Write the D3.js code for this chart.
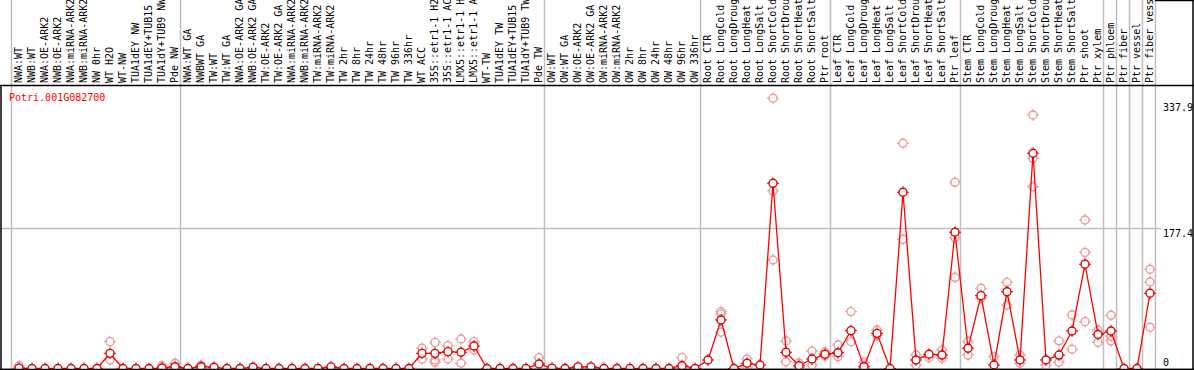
<!DOCTYPE html>
<html><head><meta charset="utf-8">
<script src="https://cdn.jsdelivr.net/npm/d3@7/dist/d3.min.js"></script>
<style>
html,body{margin:0;padding:0;background:#fff;}
svg{display:block;}
text{font-family:"DejaVu Sans Mono",monospace;font-size:10px;}
</style></head>
<body><svg id="c" width="1194" height="370"></svg>
<script>
const geneName = "Potri.001G082700";
const categories = [
"NWA:WT","NWB:WT","NWA:OE-ARK2","NWB:OE-ARK2","NWA:miRNA-ARK2","NWB:miRNA-ARK2","NW 0hr","WT H2O","WT-NW","TUA1dEY NW","TUA1dEY+TUB15 NW","TUA1dY+TUB9 NW","Pde NW",
"NWA:WT GA","NWBWT GA","TW:WT","TW:WT GA","NWA:OE-ARK2 GA","NWB:OE-ARK2 GA","TW:OE-ARK2","TW:OE-ARK2 GA","NWA:miRNA-ARK2 GA","NWB:miRNA-ARK2 GA","TW:miRNA-ARK2","TW:miRNA-ARK2 GA","TW 2hr","TW 8hr","TW 24hr","TW 48hr","TW 96hr","TW 336hr","WT ACC","35S::etr1-1 H2O","35S::etr1-1 ACC","LMX5::etr1-1 H2O","LMX5::etr1-1 ACC","WT-TW","TUA1dEY TW","TUA1dEY+TUB15 TW","TUA1dY+TUB9 TW","Pde TW",
"OW:WT","OW:WT GA","OW:OE-ARK2","OW:OE-ARK2 GA","OW:miRNA-ARK2","OW:miRNA-ARK2 GA","OW 2hr","OW 8hr","OW 24hr","OW 48hr","OW 96hr","OW 336hr",
"Root CTR","Root LongCold","Root LongDrought","Root LongHeat","Root LongSalt","Root ShortCold","Root ShortDrought","Root ShortHeat","Root ShortSalt","Ptr root",
"Leaf CTR","Leaf LongCold","Leaf LongDrought","Leaf LongHeat","Leaf LongSalt","Leaf ShortCold","Leaf ShortDrought","Leaf ShortHeat","Leaf ShortSalt","Ptr leaf",
"Stem CTR","Stem LongCold","Stem LongDrought","Stem LongHeat","Stem LongSalt","Stem ShortCold","Stem ShortDrought","Stem ShortHeat","Stem ShortSalt","Ptr shoot","Ptr xylem",
"Ptr phloem","Ptr fiber","Ptr vessel","Ptr fiber vessel"
];
const means = [
0.5,0,0,0,0,0,0,19.2,0,0,0,0.6,2.3,
0,2.3,1.5,0,0,1.5,0,0,0,0,0,2,0,0,0,0,0,0,19.2,19.2,21.3,20.5,28.5,0,0,0,0,5.7,
0.5,0,2,2,0,0,0,0,0,0,3.5,0,
10.8,61.4,0,6.6,4.4,234.4,20.5,3.5,12,18,
20,47.9,2.3,44.5,0,223,10.8,18,17,172.4,
25.6,92.2,4.4,97.2,10.8,272.4,10.8,17,47.5,131.9,43,
47.5,0,0,95.2
];
const replicates = [
[3.5],[],[],[],[],[],[],[34,10.8],[],[],[],[3.5],[6.6],
[],[4],[],[],[],[],[],[],[],[],[],[],[],[],[],[],[],[],[25.6,12],[33,10.8,7.8],[28.9,12],[37.3,6.6],[34,23.4],[],[],[],[],[13.7],
[],[],[],[],[],[],[],[],[],[],[13.7],[],
[],[72,69,46],[],[12,1],[],[342,224.7,137.3],[34.8,8.6],[7,1],[22,4.4],[21,16],
[29.7,15],[72,34],[7.8],[48.7,41.5],[],[285,163.5],[17,4.4],[13.7],[23.4,13],[235.7,165.6,115.4],
[34,17],[101.5,88.9],[15],[109,80.4],[17,6.6],[320.9,266,230],[4.4],[35,8],[67.7,24.3],[188,147,59.3],[48.7,33],
[67.3,41,35],[],[],[125.6,109.5,52.2]
];
const groupStarts = [0,13,41,53,63,73,84,85,86,87,88];
const yTicks = [0,177.4,337.9];
const gridValues = [177.4];

const svg = d3.select("#c");
const W = 1194, H = 370, headerY = 85, bottomY = 369;
const x = d3.scaleLinear().domain([0, categories.length-1]).range([19, 19 + 13*(categories.length-1)]);
const step = 13;
const y = d3.scaleLinear().domain([0, 337.9]).range([368.5, 101.5]);

// group separators
svg.append("g").selectAll("line").data(groupStarts).join("line")
  .attr("x1", d => Math.round(x(d) - 8) + 0.5).attr("x2", d => Math.round(x(d) - 8) + 0.5)
  .attr("y1", 0).attr("y2", bottomY)
  .attr("stroke", "#c0c0c0").attr("stroke-width", 1.5);

// horizontal grid
svg.append("g").selectAll("line").data(gridValues).join("line")
  .attr("x1", 1).attr("x2", 1161)
  .attr("y1", d => Math.round(y(d)) + 0.5).attr("y2", d => Math.round(y(d)) + 0.5)
  .attr("stroke", "#c0c0c0").attr("stroke-width", 1.5);

// category labels
svg.append("g").selectAll("text").data(categories).join("text")
  .attr("transform", (d,i) => `translate(${x(i)+2.5},83) rotate(-90)`)
  .attr("fill", "#000").text(d => d);

// header border + frame
svg.append("line").attr("x1",0).attr("x2",W).attr("y1",headerY+0.5).attr("y2",headerY+0.5).attr("stroke","#000").attr("stroke-width",1.5);
svg.append("line").attr("x1",0).attr("x2",W).attr("y1",bottomY+0.5).attr("y2",bottomY+0.5).attr("stroke","#000").attr("stroke-width",1.5);
svg.append("line").attr("x1",1).attr("x2",1).attr("y1",headerY).attr("y2",bottomY+1).attr("stroke","#000").attr("stroke-width",1.5);
svg.append("line").attr("x1",W-1).attr("x2",W-1).attr("y1",0).attr("y2",bottomY+1).attr("stroke","#000").attr("stroke-width",1.5);
svg.append("line").attr("x1",1155).attr("x2",W).attr("y1",0.5).attr("y2",0.5).attr("stroke","#000").attr("stroke-width",1.5);

// gene name
svg.append("text").attr("x", 9).attr("y", 101).attr("fill", "#ff0000").text(geneName);

// y tick labels
svg.append("g").selectAll("text").data(yTicks).join("text")
  .attr("x", 1163)
  .attr("y", d => (y(d) + 11 > bottomY) ? 366 : y(d) + 9)
  .attr("fill", "#000").text(d => d);

// marker helper
function marker(g, cx, cy, color, fill) {
  const m = g.append("g").attr("transform", `translate(${cx},${cy})`);
  m.append("circle").attr("r", 4).attr("fill", fill).attr("stroke", color).attr("stroke-width", 1.4);
  [[0,-4,0,-6],[0,4,0,6],[-4,0,-6,0],[4,0,6,0]].forEach(s => {
    m.append("line").attr("x1", s[0]).attr("y1", s[1]).attr("x2", s[2]).attr("y2", s[3])
      .attr("stroke", color).attr("stroke-width", 1);
  });
}

const clip = svg.append("defs").append("clipPath").attr("id","plot")
  .append("rect").attr("x", 1).attr("y", headerY+1).attr("width", W-2).attr("height", bottomY-headerY);
const plot = svg.append("g").attr("clip-path","url(#plot)");

// replicates
const repG = plot.append("g");
replicates.forEach((arr, i) => arr.forEach(v => marker(repG, x(i), y(v), "#ee9999", "none")));

// mean line
plot.append("path").datum(means)
  .attr("d", d3.line().x((d,i) => x(i)).y(d => y(d)))
  .attr("fill", "none").attr("stroke", "#ff0000").attr("stroke-width", 1.3);

// means
const mG = plot.append("g");
means.forEach((v, i) => marker(mG, x(i), y(v), "#e00000", "#fff"));

// redraw bottom border over markers
svg.append("line").attr("x1",0).attr("x2",W).attr("y1",bottomY+0.5).attr("y2",bottomY+0.5).attr("stroke","#000").attr("stroke-width",1.5);
</script></body></html>
